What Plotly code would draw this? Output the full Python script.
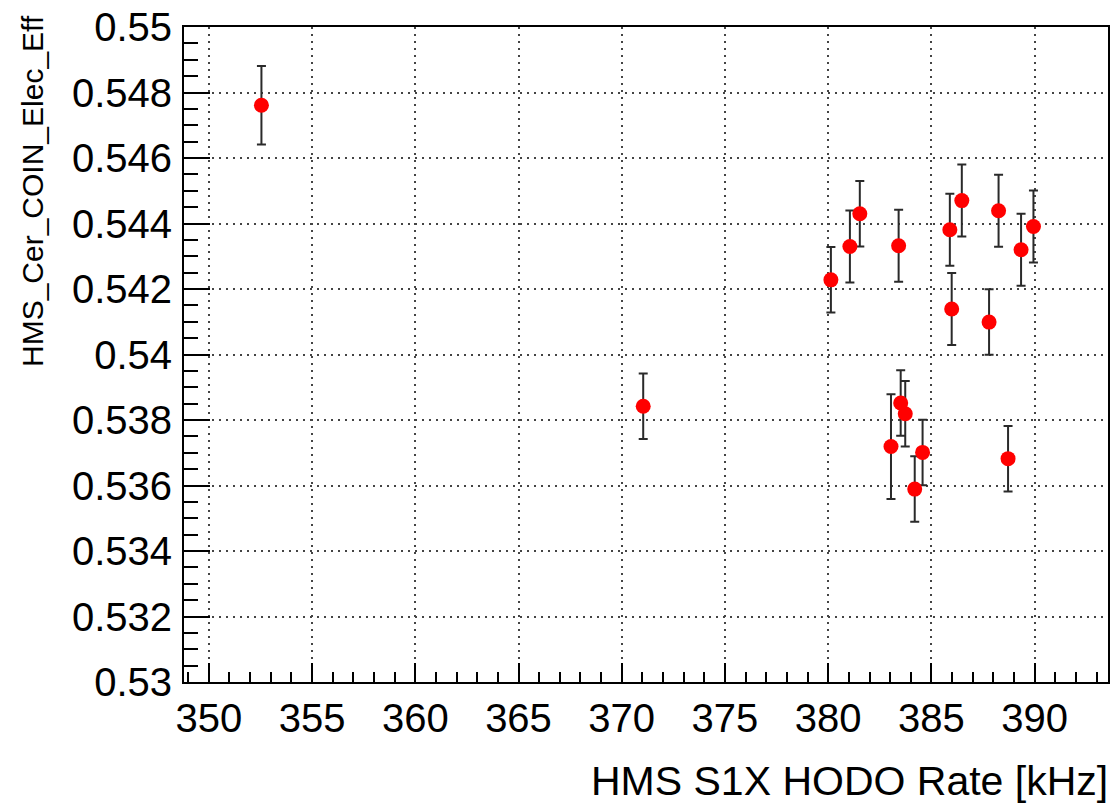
import plotly.graph_objects as go

# Data
rate_khz = [352.55, 371.04, 380.13, 381.05, 381.53, 383.04, 383.41, 383.51, 383.73, 384.19,
            384.57, 385.89, 385.98, 386.47, 387.79, 388.25, 388.71, 389.34, 389.94]
cer_eff = [0.54761, 0.53842, 0.54228, 0.54330, 0.54430, 0.53719, 0.54332, 0.53852, 0.53819, 0.53589,
           0.53701, 0.54381, 0.54139, 0.54470, 0.54099, 0.54439, 0.53682, 0.54320, 0.54391]
cer_err = [0.0012, 0.0010, 0.0010, 0.0011, 0.0010, 0.0016, 0.0011, 0.0010, 0.0010, 0.0010,
           0.0010, 0.0011, 0.0011, 0.0011, 0.0010, 0.0011, 0.0010, 0.0011, 0.0011]

x_tick_vals = [350, 355, 360, 365, 370, 375, 380, 385, 390]
x_tick_text = ["350", "355", "360", "365", "370", "375", "380", "385", "390"]
y_tick_vals = [0.53, 0.532, 0.534, 0.536, 0.538, 0.54, 0.542, 0.544, 0.546, 0.548, 0.55]
y_tick_text = ["0.53", "0.532", "0.534", "0.536", "0.538", "0.54", "0.542", "0.544", "0.546", "0.548", "0.55"]

x_title = "HMS S1X HODO Rate [kHz]"
y_title = "HMS_Cer_COIN_Elec_Eff"

FONT = "Liberation Sans, Arial, Helvetica, sans-serif"

fig = go.Figure()
fig.add_trace(go.Scatter(
    x=rate_khz, y=cer_eff, mode="markers",
    marker=dict(color="#ff0000", size=15, line=dict(width=0)),
    error_y=dict(type="data", array=cer_err, visible=True, color="#2a2a2a",
                 thickness=2, width=4.5),
    showlegend=False,
))

grid_style = dict(showgrid=True, gridcolor="#444444", gridwidth=2, griddash="2px,5px")

fig.update_xaxes(
    range=[348.8, 393.55], tickmode="array", tickvals=x_tick_vals, ticktext=x_tick_text,
    ticks="inside", ticklen=19, tickwidth=2, tickcolor="black",
    minor=dict(tickmode="linear", tick0=350, dtick=1, ticks="inside", ticklen=10,
               tickwidth=2, tickcolor="black", showgrid=False),
    showline=True, linecolor="black", linewidth=2, mirror=True,
    zeroline=False, tickfont=dict(family=FONT, size=40, color="black"),
    **grid_style,
)
fig.update_yaxes(
    range=[0.53, 0.55], tickmode="array", tickvals=y_tick_vals, ticktext=y_tick_text,
    ticks="inside", ticklen=26, tickwidth=2, tickcolor="black",
    minor=dict(tickmode="linear", tick0=0.53, dtick=0.0005, ticks="inside", ticklen=14,
               tickwidth=2, tickcolor="black", showgrid=False),
    showline=True, linecolor="black", linewidth=2, mirror=True,
    zeroline=False, tickfont=dict(family=FONT, size=40, color="black"),
    ticklabelstandoff=2,
    **grid_style,
)

fig.add_annotation(
    text=x_title, xref="paper", yref="paper", x=1.0, y=0.0,
    xanchor="right", yanchor="middle", yshift=-99, xshift=2, showarrow=False,
    font=dict(family=FONT, size=41, color="black"),
)
fig.add_annotation(
    text=y_title, xref="paper", yref="paper", x=0.0, y=1.0,
    xanchor="center", yanchor="top", xshift=-152, yshift=14, textangle=-90,
    showarrow=False,
    font=dict(family=FONT, size=30, color="black"),
)

fig.update_layout(
    width=1115, height=804,
    margin=dict(l=184, r=5, t=23, b=122),
    paper_bgcolor="white", plot_bgcolor="white",
)

fig.write_html("out.html")
